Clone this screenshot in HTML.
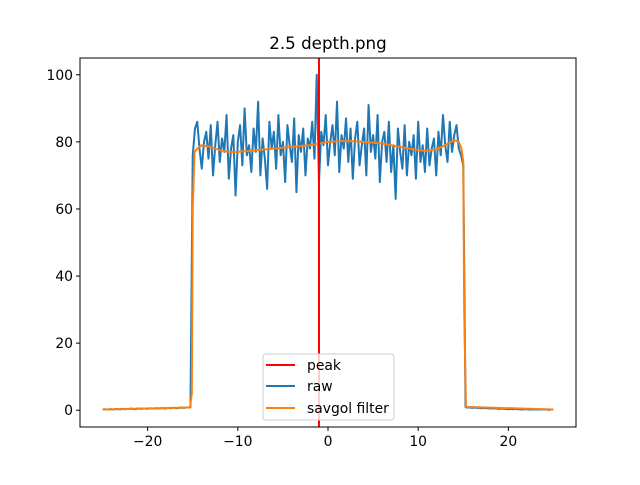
<!DOCTYPE html>
<html><head><meta charset="utf-8"><style>
body{margin:0;background:#fff;}
svg{font-family:"DejaVu Sans","Liberation Sans",sans-serif;}
</style></head><body>
<svg id="chart" width="640" height="480" xmlns="http://www.w3.org/2000/svg">
<rect width="640" height="480" fill="#fff"/>
<text x="328" y="49" font-size="16.7" text-anchor="middle">2.5 depth.png</text>
<g id="plot"></g>
<g id="axes"></g>
<g id="legend">
<rect x="263" y="354" width="131" height="66" rx="3" fill="#fff" fill-opacity="0.8" stroke="#ccc"/>
<line x1="266" y1="365" x2="295" y2="365" stroke="#ff0000" stroke-width="2"/>
<text x="307" y="370" font-size="13.9">peak</text>
<line x1="266" y1="386" x2="295" y2="386" stroke="#1f77b4" stroke-width="2"/>
<text x="307" y="391" font-size="13.9">raw</text>
<line x1="266" y1="408" x2="295" y2="408" stroke="#ff7f0e" stroke-width="2"/>
<text x="307" y="413" font-size="13.9">savgol filter</text>
</g>
</svg>
<script>
const rawStart = -25;
const rawStep = 0.25;
const rawY = [0.2,0.3,0.2,0.3,0.3,0.2,0.4,0.3,0.3,0.4,0.3,0.4,0.4,0.5,0.3,0.4,0.5,0.4,0.5,0.5,0.4,0.6,0.5,0.5,0.6,0.5,0.6,0.6,0.5,0.7,0.6,0.7,0.7,0.6,0.7,0.8,0.7,0.8,0.8,0.9,
76,84,86,78,72,80,83,75,85,70,79,86,74,
81,77,88,69,78,82,64,80,85,73,90,76,
79,71,84,77,92,70,81,75,66,86,78,83,
72,88,76,80,68,85,79,74,87,65,82,77,
84,70,81,78,86,75,100,68,83,79,88,73,
80,85,76,92,71,82,78,87,74,84,69,81,
86,73,79,84,70,91,77,82,75,88,68,80,
83,74,86,71,79,63,84,77,72,85,70,80,
76,82,69,86,74,79,71,84,73,78,81,70,
83,76,88,79,74,86,77,82,85,78,76,73,
0.9,0.8,0.8,0.7,0.8,0.7,0.7,0.6,0.7,0.6,0.6,0.5,0.6,0.5,0.5,0.4,0.5,0.4,0.4,0.3,0.4,0.3,0.4,0.3,0.3,0.2,0.3,0.3,0.2,0.2,0.3,0.2,0.2,0.2,0.3,0.2,0.2,0.1,0.2,0.2];
const sgX = [-25,-15.3,-15.1,-15,-14.8,-14.5,-14,-13,-12,-11,-10,-8,-6,-4,-2,0,2,4,6,7,8,9,10,11,12,13,14,14.5,14.8,15,15.1,15.3,25];
const sgY = [0.2,0.8,5,60,77,78,79,78.5,77.5,77,77,77.5,78,78.5,79,80,80.3,80,79.5,79,78.5,78,77.5,77.3,77.8,79,80.5,80,78,74,30,1,0.2];
const peakX = -1;
const xTicks = [-20,-10,0,10,20];
const yTicks = [0,20,40,60,80,100];

const L=80,R=576,T=58,B=427;
const xMin=-27.5,xMax=27.5,yMin=-5,yMax=105;
const sx=v=>L+(v-xMin)/(xMax-xMin)*(R-L);
const sy=v=>B-(v-yMin)/(yMax-yMin)*(B-T);
const NS="http://www.w3.org/2000/svg";
const plot=document.getElementById('plot'), axes=document.getElementById('axes');
function mk(tag,attrs,parent){const e=document.createElementNS(NS,tag);for(const k in attrs)e.setAttribute(k,attrs[k]);parent.appendChild(e);return e;}

const rawPts=rawY.map((y,i)=>sx(rawStart+i*rawStep).toFixed(2)+','+sy(y).toFixed(2)).join(' ');
const pr=mk('polyline',{points:rawPts,fill:'none',stroke:'#1f77b4','stroke-width':2,'stroke-linejoin':'round'},plot);


const sgPts=sgX.map((x,i)=>sx(x).toFixed(2)+','+sy(sgY[i]).toFixed(2)).join(' ');
const ps=mk('polyline',{points:sgPts,fill:'none',stroke:'#ff7f0e','stroke-width':2,'stroke-linejoin':'round'},plot);


const pk=mk('line',{x1:sx(peakX),x2:sx(peakX),y1:T,y2:B,stroke:'#ff0000','stroke-width':2},plot);



const fr=mk('rect',{x:L,y:T,width:R-L,height:B-T,fill:'none',stroke:'#000','stroke-width':1},axes);


xTicks.forEach(v=>{
  const x=sx(v);
  const t=mk('line',{x1:x,x2:x,y1:B,y2:B+4,stroke:'#000'},axes);
  
  
  const l=mk('text',{x:x,y:B+19,'font-size':13.9,'text-anchor':'middle'},axes);
  l.textContent=(v<0?'\u2212'+(-v):v);
  
  
});
yTicks.forEach(v=>{
  const y=sy(v);
  const t=mk('line',{x1:L-4,x2:L,y1:y,y2:y,stroke:'#000'},axes);
  
  
  const l=mk('text',{x:L-7,y:y+5,'font-size':13.9,'text-anchor':'end'},axes);
  l.textContent=v;
  
  
});
</script>
</body></html>
